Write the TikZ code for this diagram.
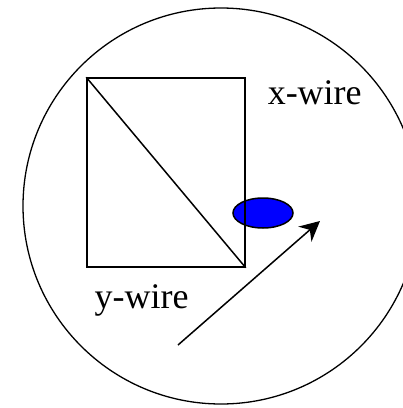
\documentclass[tikz,border=0pt]{standalone}
\usepackage{fontspec}
\setmainfont{Liberation Serif}
\usetikzlibrary{positioning,arrows.meta,shapes.geometric}
\definecolor{dotblue}{RGB}{0,0,255}

\begin{document}
\begin{tikzpicture}[x=1pt, y=-1pt, line width=1.5pt,
    wirelabel/.style={font=\fontsize{36}{40}\selectfont, inner sep=0pt, anchor=base west}]
  \useasboundingbox (0,0) rectangle (403,408);
  \clip (0,0) rectangle (403,408);
  \draw[line width=1.3pt] (221,206) circle[radius=198];
  % blue spot, the frame runs over it
  \node[ellipse, draw, fill=dotblue, minimum width=60pt, minimum height=30pt, inner sep=0pt] (dot) at (263,213) {};
  \node[rectangle, draw, minimum width=158pt, minimum height=189pt, inner sep=0pt] (frame) at (166,172.5) {};
  \draw (frame.north west) -- (frame.south east);
  \node[wirelabel] (xwire) at (267,104) {x-wire};
  \node[wirelabel] (ywire) at (94,308) {y-wire};
  \coordinate (start) at (178,345);
  \coordinate (tip) at (320,221);
  \draw[-{Stealth[length=20pt,width=20pt]}] (start) -- (tip);
\end{tikzpicture}
\end{document}
